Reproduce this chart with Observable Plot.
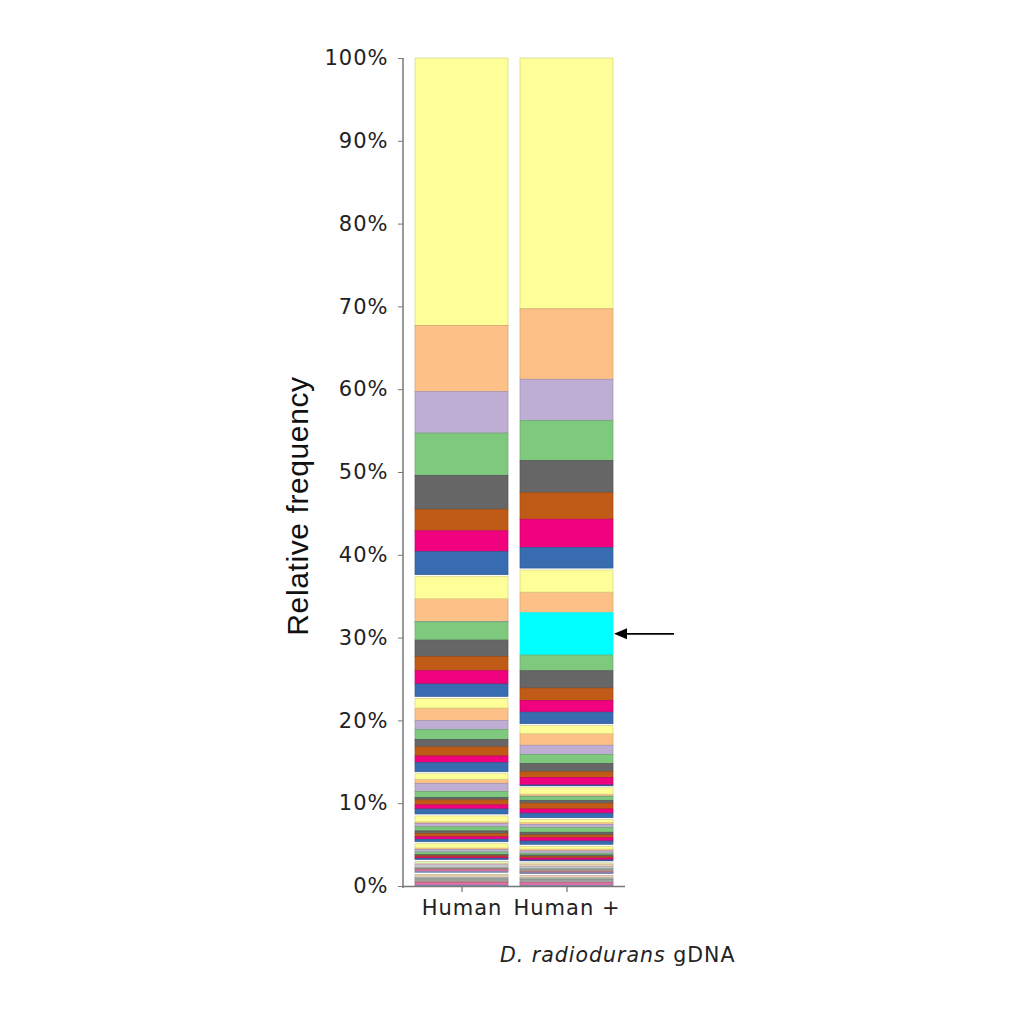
<!DOCTYPE html>
<html><head><meta charset="utf-8">
<script src="https://cdn.jsdelivr.net/npm/d3@7"></script>
<script src="https://cdn.jsdelivr.net/npm/@observablehq/plot@0.6"></script>
<style>
body{margin:0;background:#fff;}
#wrap{position:relative;width:1024px;height:1024px;overflow:hidden;}
#chart svg text{letter-spacing:1px;}
.ylab{position:absolute;left:298px;top:506px;transform:translate(-50%,-50%) rotate(-90deg);font-family:"Liberation Sans",Arial,sans-serif;font-size:30px;line-height:1;white-space:nowrap;color:#111;letter-spacing:0.6px}
.xcap{position:absolute;left:500px;top:945px;font-family:"DejaVu Sans",sans-serif;font-size:20.5px;line-height:1;white-space:nowrap;color:#222;letter-spacing:1px}
</style></head>
<body><div id="wrap"><div id="chart"></div><div class="ylab">Relative frequency</div><div class="xcap"><i>D. radiodurans</i> gDNA</div></div>
<script>
// Samples (x categories)
const samples = ["Human", "Human +"];
// Colour of each taxon slot within a block of eight (listed top to bottom)
const slotColors = ["#ffff99", "#fdc086", "#beaed4", "#7fc97f", "#666666", "#bf5b17", "#f0027f", "#386cb0"];
const highlightColor = "#00ffff";     // D. radiodurans
const highlightIndex = 10;            // taxon position of D. radiodurans
// Relative abundances (%), taxa listed from top of the bar to the bottom
const humanValues = [
  32.3, 8.0, 5.0, 5.1, 4.1, 2.6, 2.5, 2.8,
  2.9, 2.75, 0.05, 2.2, 2.0, 1.7, 1.6, 1.5,
  1.4, 1.5, 1.1, 1.2, 0.9, 1.1, 0.8, 1.1,
  0.9, 0.5, 1.0, 0.7, 0.3, 0.6, 0.5, 0.6,
  0.95, 0.2, 0.4, 0.5, 0.3, 0.4, 0.3, 0.3,
  0.75, 0.2, 0.3, 0.3, 0.15, 0.15, 0.15, 0.15,
  0.5, 0.15, 0.3, 0.1, 0.1, 0.1, 0.2, 0.1,
  0.3, 0.3, 0.1, 0.1, 0.35, 0.1, 0.3, 0.1
];
const humanDrValues = [
  30.3, 8.5, 5.0, 4.8, 3.9, 3.2, 3.4, 2.5,
  2.9, 2.5, 5.1, 1.9, 2.1, 1.5, 1.4, 1.4,
  1.2, 1.4, 1.1, 1.1, 1.0, 0.7, 0.9, 0.1,
  1.0, 0.25, 0.05, 0.45, 0.35, 0.7, 0.5, 0.55,
  0.57, 0.24, 0.4, 0.55, 0.33, 0.33, 0.4, 0.39,
  0.58, 0.23, 0.28, 0.21, 0.2, 0.16, 0.24, 0.1,
  0.4, 0.3, 0.2, 0.1, 0.25, 0.1, 0.1, 0.1,
  0.2, 0.3, 0.1, 0.1, 0.35, 0.05, 0.3, 0.09
];
const yTicks = [0, 10, 20, 30, 40, 50, 60, 70, 80, 90, 100];

function buildRows(sample, values, highlight) {
  let top = d3.sum(values);
  return values.map((v, i) => {
    const group = Math.floor(i / 8), slot = i % 8;
    let base = (highlight && i === highlightIndex) ? highlightColor : slotColors[slot];
    if (group >= 6) base = d3.interpolateRgb(base, "#dddddd")(0.5);
    const row = {sample, y2: top, y1: top - v, group, slot, index: i,
      fill: base, stroke: (highlight && i === highlightIndex) ? base : d3.color(base).darker(0.5).formatHex()};
    top -= v;
    return row;
  });
}
const rows = [...buildRows(samples[0], humanValues, false), ...buildRows(samples[1], humanDrValues, true)];
const blockTops = rows.filter(d => d.slot === 0 && d.group > 0);
const others = rows.filter(d => !(d.slot === 0 && d.group > 0));
const target = rows.find(d => d.sample === samples[1] && d.index === highlightIndex);

const chart = Plot.plot({
  width: 1024,
  height: 930,
  marginTop: 58,
  marginBottom: 44,
  marginLeft: 403,
  marginRight: 399,
  style: {fontFamily: "DejaVu Sans, sans-serif", fontSize: "21px", color: "#222", background: "#fff"},
  x: {domain: samples, paddingInner: 0.113, paddingOuter: 0.104, label: null},
  y: {domain: [0, 100], label: null},
  color: {type: "identity"},
  marks: [
    Plot.barY(others, {x: "sample", y1: "y1", y2: "y2", fill: "fill", stroke: "stroke", strokeWidth: 0.7}),
    Plot.barY(blockTops, {x: "sample", y1: "y1", y2: "y2", fill: "fill", stroke: "stroke", strokeWidth: 0.7, insetTop: 2}),
    Plot.axisY(yTicks, {tickSize: 5, tickPadding: 10, tickFormat: d => d + "%", stroke: "#777", fill: "#222", label: null}),
    Plot.axisX({tickSize: 6, tickPadding: 8, stroke: "#555", fill: "#222", label: null}),
    Plot.ruleY([0], {stroke: "#777", strokeWidth: 1.5}),
    (index, scales, values, dims) => {
      const g = d3.create("svg:g");
      g.append("line")
        .attr("x1", dims.marginLeft).attr("x2", dims.marginLeft)
        .attr("y1", scales.y(100)).attr("y2", scales.y(0) + 2)
        .attr("stroke", "#777").attr("stroke-width", 1.5);
      let bw = scales.x.bandwidth;
      if (typeof bw === "function") bw = bw();
      if (!(bw > 0)) bw = 0;
      const xTip = scales.x(target.sample) + bw + 1;
      const yMid = scales.y((target.y1 + target.y2) / 2);
      g.append("line")
        .attr("x1", xTip + 10).attr("x2", xTip + 60)
        .attr("y1", yMid).attr("y2", yMid)
        .attr("stroke", "#000").attr("stroke-width", 1.6);
      g.append("path")
        .attr("d", `M${xTip},${yMid}L${xTip + 13},${yMid - 5.5}L${xTip + 13},${yMid + 5.5}Z`)
        .attr("fill", "#000");
      return g.node();
    }
  ]
});
document.getElementById("chart").appendChild(chart);
</script>
</body></html>
